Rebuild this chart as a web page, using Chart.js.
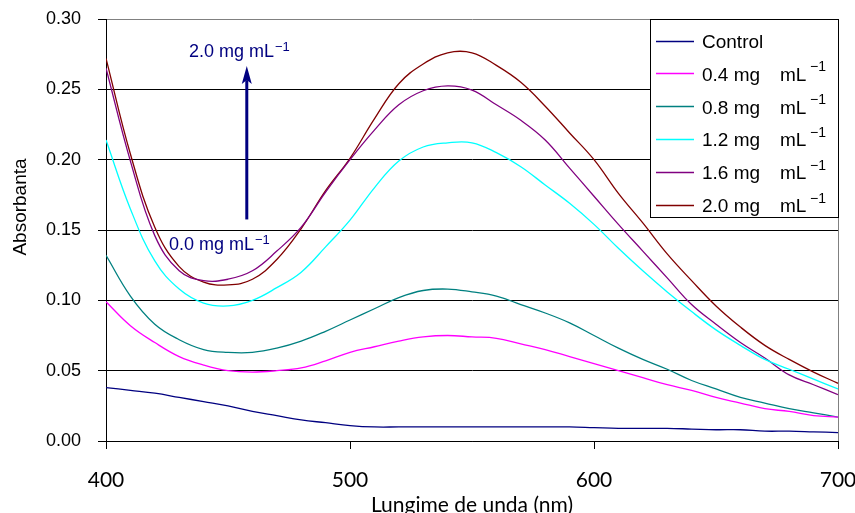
<!DOCTYPE html>
<html>
<head>
<meta charset="utf-8">
<script src="https://cdn.jsdelivr.net/npm/chart.js@4/dist/chart.umd.min.js"></script>
<style>
  html, body { margin: 0; padding: 0; background: #fff; }
  #wrap { width: 855px; height: 513px; position: relative; }
</style>
</head>
<body>
<div id="wrap"><canvas id="c" width="855" height="513"></canvas></div>
<script>
// ---- data ----
const wavelengths = [400,410,420,430,440,450,460,470,480,490,500,510,520,530,540,550,560,570,580,590,600,610,620,630,640,650,660,670,680,690,700];
const control = [0.038,0.036,0.034,0.031,0.028,0.025,0.021,0.018,0.015,0.013,0.011,0.010,0.010,0.010,0.010,0.010,0.010,0.010,0.010,0.010,0.0095,0.009,0.009,0.009,0.0085,0.008,0.008,0.007,0.007,0.0065,0.006];
const conc04 = [0.099,0.082,0.070,0.060,0.054,0.050,0.049,0.050,0.052,0.057,0.063,0.067,0.071,0.074,0.075,0.074,0.073,0.069,0.065,0.060,0.055,0.050,0.045,0.040,0.036,0.031,0.027,0.023,0.021,0.018,0.017];
const conc08 = [0.132,0.103,0.083,0.072,0.065,0.063,0.063,0.066,0.071,0.078,0.086,0.094,0.102,0.107,0.108,0.106,0.103,0.097,0.091,0.084,0.075,0.066,0.058,0.051,0.043,0.037,0.031,0.027,0.023,0.020,0.017];
const conc12 = [0.214,0.165,0.128,0.108,0.098,0.096,0.100,0.109,0.120,0.138,0.157,0.180,0.199,0.209,0.212,0.212,0.205,0.195,0.182,0.169,0.154,0.137,0.121,0.106,0.092,0.079,0.068,0.058,0.051,0.044,0.037];
const conc16 = [0.265,0.199,0.146,0.121,0.114,0.115,0.121,0.135,0.152,0.177,0.200,0.221,0.239,0.249,0.2525,0.2495,0.239,0.228,0.214,0.194,0.174,0.154,0.135,0.116,0.097,0.083,0.070,0.059,0.047,0.040,0.033];
const conc20 = [0.272,0.204,0.152,0.124,0.113,0.111,0.115,0.129,0.151,0.178,0.201,0.229,0.254,0.268,0.276,0.276,0.267,0.255,0.238,0.219,0.200,0.176,0.155,0.133,0.114,0.096,0.081,0.068,0.058,0.049,0.041];
const seriesLabels = ['Control','0.4 mg mL\u207B\u00B9','0.8 mg mL\u207B\u00B9','1.2 mg mL\u207B\u00B9','1.6 mg mL\u207B\u00B9','2.0 mg mL\u207B\u00B9'];
const xTickLabels = [400,500,600,700];
const yTickLabels = [0.00,0.05,0.10,0.15,0.20,0.25,0.30];
const annotationTop = '2.0 mg mL';
const annotationBottom = '0.0 mg mL';
const arrowAt = { x: 457.7, yFrom: 0.1575, yTo: 0.2665 };

// ---- styles ----
const colors = ['#000080','#FF00FF','#008080','#00FFFF','#800080','#800000'];
const allSeries = [control, conc04, conc08, conc12, conc16, conc20];

const datasets = allSeries.map((s, i) => ({
  label: seriesLabels[i],
  data: wavelengths.map((w, k) => ({ x: w, y: s[k] })),
  borderColor: colors[i],
  backgroundColor: colors[i],
  borderWidth: 1.3,
  pointRadius: 0,
  fill: false,
  tension: 0.4
}));

const SANS = '"Liberation Sans", Arial, sans-serif';
const XFONT = 'Lato, "Liberation Sans", sans-serif';

const decorPlugin = {
  id: 'decor',
  afterDatasetsDraw(chart) {
    const ctx = chart.ctx;
    const xs = chart.scales.x, ys = chart.scales.y;
    ctx.save();
    ctx.fillStyle = '#000';
    ctx.font = '19px ' + SANS;
    ctx.textAlign = 'center';
    ctx.textBaseline = 'middle';
    ctx.translate(21, 207);
    ctx.rotate(-Math.PI / 2);
    ctx.fillText('Absorbanta', 0, 0);
    ctx.restore();

    ctx.save();
    const ax = xs.getPixelForValue(arrowAt.x);
    const y0 = ys.getPixelForValue(arrowAt.yFrom);
    const y1 = ys.getPixelForValue(arrowAt.yTo);
    ctx.strokeStyle = '#000080';
    ctx.fillStyle = '#000080';
    ctx.lineWidth = 3;
    ctx.beginPath();
    ctx.moveTo(ax, y0);
    ctx.lineTo(ax, y1 + 14);
    ctx.stroke();
    ctx.beginPath();
    ctx.moveTo(ax, y1);
    ctx.lineTo(ax - 5, y1 + 18);
    ctx.lineTo(ax, y1 + 14);
    ctx.lineTo(ax + 5, y1 + 18);
    ctx.closePath();
    ctx.fill();

    const drawSup = (txt, x, y) => {
      ctx.font = '18px ' + SANS;
      ctx.textAlign = 'left';
      ctx.textBaseline = 'alphabetic';
      ctx.fillText(txt, x, y);
      const w = ctx.measureText(txt).width;
      ctx.font = '13px ' + SANS;
      ctx.fillText('\u2212' + '1', x + w + 1, y - 6);
    };
    drawSup(annotationTop, xs.getPixelForValue(434), ys.getPixelForValue(0.273));
    drawSup(annotationBottom, xs.getPixelForValue(425.8), ys.getPixelForValue(0.136));
    ctx.restore();

    ctx.save();
    const bx = 650, by = 19, bw = 188, bh = 198;
    ctx.fillStyle = '#fff';
    ctx.fillRect(bx, by, bw, bh);
    ctx.strokeStyle = '#000';
    ctx.lineWidth = 1;
    ctx.strokeRect(bx + 0.5, by + 0.5, bw, bh);
    chart.data.datasets.forEach((ds, i) => {
      const ry = 42.5 + i * 32.9;
      ctx.strokeStyle = ds.borderColor;
      ctx.lineWidth = 1.5;
      ctx.beginPath();
      ctx.moveTo(656, Math.round(ry) - 1.5);
      ctx.lineTo(694, Math.round(ry) - 1.5);
      ctx.stroke();
      ctx.fillStyle = '#000';
      ctx.font = '19px ' + SANS;
      ctx.textAlign = 'left';
      ctx.textBaseline = 'middle';
      const lbl = ds.label;
      const idx = lbl.indexOf(' mL');
      if (idx < 0) {
        ctx.fillText(lbl, 702, ry);
      } else {
        ctx.fillText(lbl.slice(0, idx), 702, ry);
        ctx.fillText('mL', 780, ry);
        ctx.font = '14px ' + SANS;
        ctx.fillText('\u2212' + '1', 810, ry - 8);
      }
    });
    ctx.restore();
  }
};

new Chart(document.getElementById('c'), {
  type: 'line',
  data: { datasets },
  options: {
    responsive: false,
    animation: false,
    devicePixelRatio: 1,
    layout: { padding: { top: 19, right: 17, left: 0, bottom: 0 } },
    plugins: { legend: { display: false }, tooltip: { enabled: false } },
    scales: {
      x: {
        type: 'linear',
        min: 400, max: 700,
        afterFit(scale) { scale.height = 72; scale.paddingLeft = 0; scale.paddingRight = 0; },
        afterBuildTicks(scale) { scale.ticks = xTickLabels.map(v => ({ value: v })); },
        ticks: { color: '#000', font: { family: XFONT, size: 21 }, padding: 19, maxRotation: 0, callback: v => String(v) },
        grid: {
          drawOnChartArea: true,
          color: c => (c.tick && c.tick.value === 700) ? '#808080' : 'rgba(0,0,0,0)',
          tickColor: '#000',
          tickLength: 8
        },
        border: { display: true, color: '#000', width: 1 },
        title: { display: true, text: 'Lungime de unda (nm)', color: '#000', font: { family: XFONT, size: 21 }, padding: { top: 0, bottom: -5 } }
      },
      y: {
        type: 'linear',
        min: 0, max: 0.3,
        afterFit(scale) { scale.width = 106; scale.paddingTop = 0; scale.paddingBottom = 0; },
        afterBuildTicks(scale) { scale.ticks = yTickLabels.map(v => ({ value: v })); },
        ticks: { color: '#000', font: { family: SANS, size: 18 }, padding: 17, callback: v => Number(v).toFixed(2) },
        grid: {
          color: c => (c.tick && Math.abs(c.tick.value - 0.3) < 1e-9) ? '#808080' : '#000',
          tickColor: '#000',
          tickLength: 8,
          lineWidth: 1
        },
        border: { display: true, color: '#000', width: 1 }
      }
    }
  },
  plugins: [decorPlugin]
});
</script>
</body>
</html>
